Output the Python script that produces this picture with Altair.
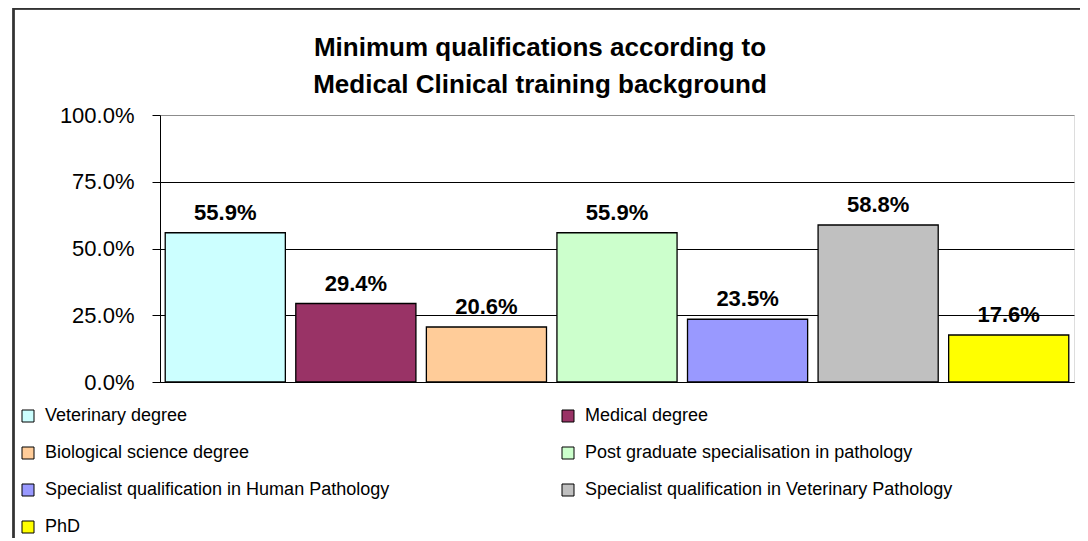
import altair as alt
import pandas as pd

categories = [
    "Veterinary degree",
    "Medical degree",
    "Biological science degree",
    "Post graduate specialisation in pathology",
    "Specialist qualification in Human Pathology",
    "Specialist qualification in Veterinary Pathology",
    "PhD",
]
values = [0.559, 0.294, 0.206, 0.559, 0.235, 0.588, 0.176]
colors = ["#CCFFFF", "#993366", "#FFCC99", "#CCFFCC", "#9999FF", "#C0C0C0", "#FFFF00"]
y_ticks = [0, 0.25, 0.5, 0.75, 1.0]

df = pd.DataFrame({"cat": categories, "val": values})

FONT = "Liberation Sans"

x_enc = alt.X(
    "cat:N",
    sort=categories,
    scale=alt.Scale(paddingInner=0.08, paddingOuter=0.04),
    axis=alt.Axis(labels=False, ticks=False, title=None, domainColor="#000000",
                  domainWidth=1),
)
y_enc = alt.Y(
    "val:Q",
    scale=alt.Scale(domain=[0, 1]),
    axis=alt.Axis(
        values=y_ticks,
        format=".1%",
        title=None,
        labelFontSize=22,
        labelFont=FONT,
        labelColor="#000000",
        labelPadding=18,
        tickSize=8,
        tickColor="#000000",
        domainColor="#000000",
        grid=True,
        gridColor={"condition": {"test": "datum.value >= 1", "value": "#8c8c8c"},
                   "value": "#000000"},
        gridWidth=1,
    ),
)

bars = alt.Chart(df).mark_bar(stroke="#000000", strokeWidth=1.3).encode(
    x=x_enc,
    y=y_enc,
    fill=alt.Fill(
        "cat:N",
        sort=categories,
        scale=alt.Scale(domain=categories, range=colors),
        legend=alt.Legend(
            title=None,
            orient="none",
            direction="horizontal",
            legendX=-141,
            legendY=292,
            columns=2,
            columnPadding=169,
            rowPadding=19,
            symbolType="square",
            symbolSize=144,
            symbolStrokeColor="#000000",
            symbolStrokeWidth=1,
            labelFontSize=18,
            labelFont=FONT,
            labelColor="#000000",
            labelOffset=8,
            labelLimit=600,
        ),
    ),
)

labels = alt.Chart(df).mark_text(
    fontSize=22, fontWeight="bold", font=FONT, baseline="alphabetic", dy=-13,
    color="#000000",
).encode(
    x=alt.X("cat:N", sort=categories),
    y="val:Q",
    text=alt.Text("val:Q", format=".1%"),
)

frame = alt.Chart(df).mark_rect(fillOpacity=0, stroke="#333333", strokeWidth=1.5).encode(
    x=alt.value(-146.5), x2=alt.value(960), y=alt.value(-106.5), y2=alt.value(600)
)

chart = (
    alt.layer(frame, bars, labels)
    .properties(
        width=914,
        height=267,
        autosize=alt.AutoSizeParams(type="none"),
        padding={"left": 152, "top": 107, "right": 6, "bottom": 156},
        title=alt.TitleParams(
            text=["Minimum qualifications according to",
                  "Medical Clinical training background"],
            fontSize=26,
            fontWeight="bold",
            font=FONT,
            color="#000000",
            anchor="middle",
            baseline="alphabetic",
            lineHeight=37,
            dx=-77,
            dy=111,
            offset=0,
        ),
    )
    .configure_view(stroke="#8c8c8c", strokeWidth=1)
    .configure(background="white")
)

chart.save("out.html", embed_options={"renderer": "svg", "actions": False})
